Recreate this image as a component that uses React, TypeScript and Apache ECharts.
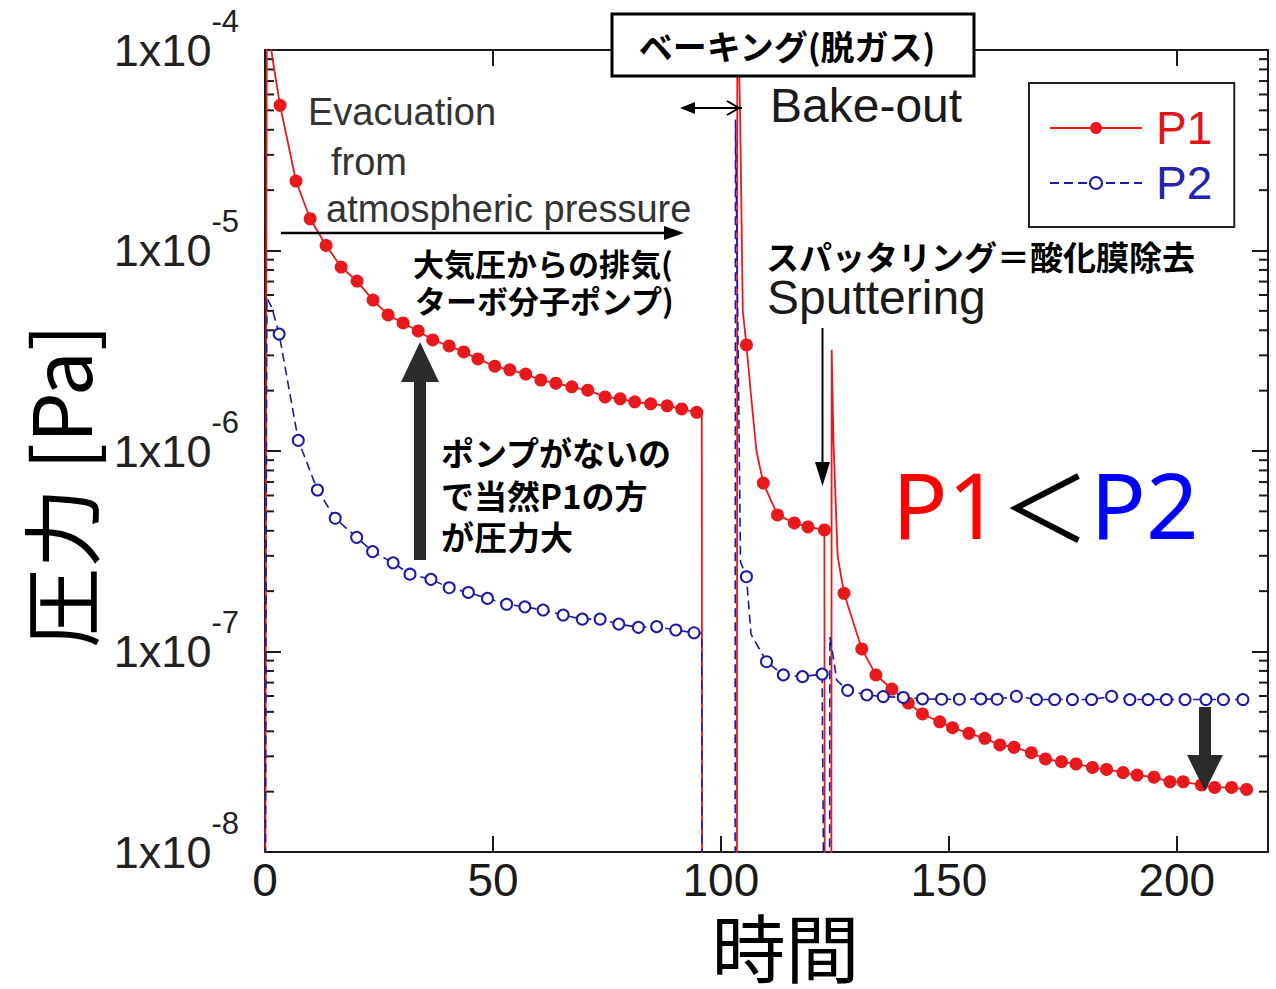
import React, { useEffect, useRef } from "react";
import * as echarts from "echarts";

// ---------- axes ----------
const X_MIN = 0;
const X_MAX = 220;
const X_INTERVAL = 50;
const Y_MIN = 1e-8;
const Y_MAX = 1e-4;
const DECADES = [1e-8, 1e-7, 1e-6, 1e-5];
const MINOR_STEPS = [2, 3, 4, 5, 6, 7, 8, 9];
const X_AXIS_NAME = "時間";
const Y_AXIS_NAME = "圧力 [Pa]";
const SERIES_NAMES = ["P1", "P2"];

// ---------- P1 (red, filled markers) ----------
const p1EvacT = [3.3, 6.8, 9.9, 13.4, 16.7, 20.2, 23.7, 27.0, 30.3, 33.6, 36.8, 40.4, 43.6, 46.7, 50.4, 53.7, 57.2, 60.5, 63.8, 67.3, 70.8, 74.6, 77.9, 81.1, 84.6, 88.2, 91.4, 94.7];
const p1EvacV = [5.3e-5, 2.22e-5, 1.44e-5, 1.06e-5, 8.27e-6, 7.04e-6, 5.66e-6, 4.77e-6, 4.35e-6, 3.97e-6, 3.58e-6, 3.34e-6, 3.12e-6, 2.88e-6, 2.65e-6, 2.54e-6, 2.42e-6, 2.26e-6, 2.18e-6, 2.09e-6, 2.01e-6, 1.86e-6, 1.82e-6, 1.76e-6, 1.72e-6, 1.68e-6, 1.62e-6, 1.56e-6];
const p1BakeT = [105.6, 109.3, 112.4, 116.1, 119.1, 122.7];
const p1BakeV = [3.38e-6, 6.92e-7, 4.8e-7, 4.38e-7, 4.18e-7, 4.04e-7];
const p1SputT = [127.0, 130.9, 134.0, 137.5, 141.1, 144.2, 148.0, 150.8, 154.4, 157.9, 161.2, 164.3, 168.1, 171.2, 174.7, 177.9, 181.5, 184.6, 188.2, 191.3, 195.0, 198.5, 201.4, 205.4, 208.3, 212.0, 215.3];
const p1SputV = [1.95e-7, 1.03e-7, 7.64e-8, 6.5e-8, 5.53e-8, 4.88e-8, 4.46e-8, 4.17e-8, 3.91e-8, 3.69e-8, 3.42e-8, 3.33e-8, 3.13e-8, 2.91e-8, 2.82e-8, 2.75e-8, 2.64e-8, 2.58e-8, 2.49e-8, 2.42e-8, 2.36e-8, 2.24e-8, 2.24e-8, 2.16e-8, 2.1e-8, 2.1e-8, 2.05e-8];
// unmarked trace points (jumps and spikes)
const p1EdgeT = [0, 0.4, 1.5, 95.8, 95.9, 103.5, 103.6, 104.2, 104.8, 106.7, 107.8, 122.8, 124.2, 124.3, 124.7, 125.6];
const p1EdgeV = [1e-9, 2e-4, 9.5e-5, 1.54e-6, 1e-9, 1e-9, 2e-4, 5e-5, 5e-6, 1.8e-6, 1.0e-6, 1e-9, 1e-9, 3.2e-6, 1.1e-6, 3.0e-7];

// ---------- P2 (blue, open markers) ----------
const p2EvacT = [3.1, 7.3, 11.5, 15.4, 20.1, 23.6, 28.1, 31.8, 36.4, 40.4, 44.6, 48.8, 53.0, 57.0, 61.0, 65.4, 69.6, 73.5, 77.6, 81.9, 85.9, 90.1, 94.1];
const p2EvacV = [3.83e-6, 1.13e-6, 6.39e-7, 4.62e-7, 3.71e-7, 3.15e-7, 2.77e-7, 2.43e-7, 2.29e-7, 2.08e-7, 1.97e-7, 1.84e-7, 1.72e-7, 1.67e-7, 1.61e-7, 1.52e-7, 1.45e-7, 1.45e-7, 1.37e-7, 1.32e-7, 1.33e-7, 1.28e-7, 1.24e-7];
const p2BakeT = [105.6, 110.0, 113.7, 117.9, 122.2];
const p2BakeV = [2.36e-7, 8.89e-8, 7.64e-8, 7.49e-8, 7.72e-8];
const p2SputT = [127.8, 132.0, 135.6, 140.0, 144.2, 148.4, 152.3, 157.0, 160.6, 164.8, 169.2, 173.2, 177.1, 181.3, 185.7, 189.7, 193.7, 197.7, 201.8, 206.4, 210.2, 214.5];
const p2SputV = [6.4e-8, 6.07e-8, 5.96e-8, 5.9e-8, 5.8e-8, 5.78e-8, 5.78e-8, 5.8e-8, 5.78e-8, 5.98e-8, 5.76e-8, 5.76e-8, 5.76e-8, 5.76e-8, 5.98e-8, 5.76e-8, 5.76e-8, 5.76e-8, 5.76e-8, 5.76e-8, 5.76e-8, 5.76e-8];
const p2EdgeT = [0, 0.4, 1.5, 95.8, 95.9, 103.1, 103.2, 104.3, 106.6, 122.8, 123.8, 123.9, 124.6, 125.4];
const p2EdgeV = [1e-9, 5.8e-6, 5.2e-6, 1.23e-7, 1e-9, 1e-9, 4.5e-5, 2.8e-7, 1.22e-7, 1e-9, 1e-9, 1.18e-7, 9.5e-8, 7.2e-8];

// ---------- styling ----------
const RED = "#e8181c";
const BLUE = "#1a1aa8";
const AXIS = "#1a1a1a";
const FONT_EN = "'Liberation Sans', Arial, sans-serif";
const FONT_JP = "'Noto Sans CJK JP', sans-serif";

function buildData(markSets: Array<[number[], number[]]>, edgeT: number[], edgeV: number[]) {
  const pts: { t: number; v: number; mark: boolean }[] = [];
  markSets.forEach(([ts, vs]) => ts.forEach((t, i) => pts.push({ t, v: vs[i], mark: true })));
  edgeT.forEach((t, i) => pts.push({ t, v: edgeV[i], mark: false }));
  pts.sort((a, b) => a.t - b.t);
  return pts.map((p) => (p.mark ? [p.t, p.v] : { value: [p.t, p.v], symbol: "none" }));
}

const minorTicks: number[] = [];
DECADES.forEach((d) => MINOR_STEPS.forEach((m) => minorTicks.push(m * d)));

function txt(text: string, x: number, y: number, size: number, family: string, weight: string, fill: string, align = "left", lh?: number) {
  return {
    type: "text",
    silent: true,
    z: 20,
    style: {
      legacy: false,
      text,
      x,
      y,
      fontSize: size,
      fontFamily: family,
      fontWeight: weight,
      fill,
      align,
      verticalAlign: "middle",
      lineHeight: lh ?? size,
    },
  };
}

export default function App() {
  const ref = useRef<HTMLDivElement>(null);

  useEffect(() => {
    if (!ref.current) return;
    const chart = echarts.init(ref.current, undefined, { renderer: "svg" });

    const p1Data = buildData([[p1EvacT, p1EvacV], [p1BakeT, p1BakeV], [p1SputT, p1SputV]], p1EdgeT, p1EdgeV);
    const p2Data = buildData([[p2EvacT, p2EvacV], [p2BakeT, p2BakeV], [p2SputT, p2SputV]], p2EdgeT, p2EdgeV);

    const axisLine = { show: true, onZero: false, lineStyle: { color: AXIS, width: 2 } };
    const majorTick = { show: true, inside: true, length: 16, lineStyle: { color: AXIS, width: 2 } };

    const graphics: any[] = [
      // Bake box
      { type: "rect", silent: true, z: 19, shape: { x: 612, y: 14, width: 362, height: 62 }, style: { fill: "#fff", stroke: "#000", lineWidth: 3 } },
      txt("ベーキング(脱ガス)", 787, 45, 34, FONT_JP, "bold", "#000", "center"),
      txt("Bake-out", 770, 105, 48, FONT_EN, "normal", "#1a1a1a", "left", 40),
      // double arrow
      { type: "line", silent: true, z: 20, shape: { x1: 684, y1: 108, x2: 742, y2: 108 }, style: { stroke: "#000", lineWidth: 2 } },
      { type: "polygon", silent: true, z: 20, shape: { points: [[680, 108], [695, 102], [695, 114]] }, style: { fill: "#000" } },
      { type: "polyline", silent: true, z: 20, shape: { points: [[727, 101], [739, 108], [727, 115]] }, style: { stroke: "#000", lineWidth: 2, fill: "none" } },
      // evacuation
      txt("Evacuation", 308, 112, 38, FONT_EN, "normal", "#333"),
      txt("from", 331, 162, 38, FONT_EN, "normal", "#333"),
      txt("atmospheric pressure", 326, 209, 38, FONT_EN, "normal", "#333"),
      { type: "line", silent: true, z: 20, shape: { x1: 281, y1: 233, x2: 668, y2: 233 }, style: { stroke: "#000", lineWidth: 2.5 } },
      { type: "polygon", silent: true, z: 20, shape: { points: [[664, 226], [684, 233], [664, 240]] }, style: { fill: "#000" } },
      txt("大気圧からの排気(", 413, 262, 31, FONT_JP, "bold", "#000"),
      txt("ターボ分子ポンプ)", 415, 299, 31, FONT_JP, "bold", "#000"),
      // big up arrow
      { type: "rect", silent: true, z: 20, shape: { x: 414, y: 378, width: 12, height: 182 }, style: { fill: "#2b2b2b" } },
      { type: "polygon", silent: true, z: 20, shape: { points: [[401, 382], [420, 342], [439, 382]] }, style: { fill: "#2b2b2b" } },
      txt("ポンプがないの", 441, 452, 33, FONT_JP, "bold", "#000"),
      txt("で当然P1の方", 441, 495, 33, FONT_JP, "bold", "#000"),
      txt("が圧力大", 441, 536, 33, FONT_JP, "bold", "#000"),
      // sputtering
      txt("スパッタリング＝酸化膜除去", 766, 256, 33, FONT_JP, "bold", "#000", "left", 30),
      txt("Sputtering", 767, 297, 48, FONT_EN, "normal", "#1a1a1a", "left", 40),
      { type: "line", silent: true, z: 20, shape: { x1: 822.5, y1: 328, x2: 822.5, y2: 468 }, style: { stroke: "#000", lineWidth: 2 } },
      { type: "polygon", silent: true, z: 20, shape: { points: [[815, 462], [830, 462], [822.5, 486]] }, style: { fill: "#000" } },
      // P1 < P2
      {
        type: "text",
        silent: true,
        z: 20,
        style: {
          legacy: false,
          text: "{a|P1}{b|＜}{c|P2}",
          x: 892,
          y: 503,
          align: "left",
          verticalAlign: "middle",
          rich: {
            a: { fontSize: 92, fontFamily: "'Noto Sans', sans-serif", fill: "#ff0000", lineHeight: 92 },
            b: { fontSize: 90, fontFamily: FONT_JP, fill: "#000", lineHeight: 92 },
            c: { fontSize: 92, fontFamily: "'Noto Sans', sans-serif", fill: "#0000ff", lineHeight: 92 },
          },
        },
      },
      // right down arrow
      { type: "rect", silent: true, z: 20, shape: { x: 1199, y: 707, width: 12, height: 52 }, style: { fill: "#2b2b2b" } },
      { type: "polygon", silent: true, z: 20, shape: { points: [[1187, 755], [1223, 755], [1205, 791]] }, style: { fill: "#2b2b2b" } },
    ];

    const option: any = {
      animation: false,
      backgroundColor: "#fff",
      grid: { left: 265, right: 8, top: 50, bottom: 137, containLabel: false },
      legend: {
        data: [
          { name: SERIES_NAMES[0], textStyle: { color: "#e3141b" } },
          { name: SERIES_NAMES[1], textStyle: { color: "#2424b0" } },
        ],
        orient: "vertical",
        left: 1029,
        top: 83,
        itemWidth: 92,
        itemHeight: 15,
        itemGap: 9,
        padding: [22, 22, 21, 20],
        borderColor: "#222",
        borderWidth: 2,
        backgroundColor: "#fff",
        textStyle: { fontSize: 46, fontFamily: FONT_EN, padding: [0, 0, 0, 9] },
      },
      xAxis: [
        {
          type: "value",
          min: X_MIN,
          max: X_MAX,
          interval: X_INTERVAL,
          position: "bottom",
          axisLine,
          axisTick: majorTick,
          splitLine: { show: false },
          axisLabel: { fontSize: 46, color: "#1a1a1a", fontFamily: FONT_EN, margin: 5, showMaxLabel: false },
          name: X_AXIS_NAME,
          nameLocation: "middle",
          nameGap: 54,
          nameTextStyle: { fontSize: 74, fontFamily: FONT_JP, color: "#000", padding: [0, 0, 0, 38], lineHeight: 74 },
        },
        {
          type: "value",
          min: X_MIN,
          max: X_MAX,
          interval: X_INTERVAL,
          position: "top",
          axisLine,
          axisTick: majorTick,
          splitLine: { show: false },
          axisLabel: { show: false },
        },
      ],
      yAxis: [
        {
          type: "log",
          logBase: 10,
          min: Y_MIN,
          max: Y_MAX,
          position: "left",
          axisLine,
          axisTick: majorTick,
          splitLine: { show: false },
          axisLabel: {
            margin: 26,
            formatter: (v: number) => `{m|1x10}{e|${Math.round(Math.log10(v))}}`,
            rich: {
              m: { fontSize: 45, fontFamily: FONT_EN, color: "#222" },
              e: { fontSize: 31, fontFamily: FONT_EN, color: "#222", padding: [0, 0, 58, 0] },
            },
          },
          name: Y_AXIS_NAME,
          nameLocation: "middle",
          nameRotate: 90,
          nameGap: 168,
          nameTextStyle: { fontSize: 80, fontFamily: FONT_JP, color: "#000", padding: [0, 70, 0, 0], lineHeight: 80 },
        },
        {
          type: "log",
          logBase: 10,
          min: Y_MIN,
          max: Y_MAX,
          position: "right",
          axisLine,
          axisTick: majorTick,
          splitLine: { show: false },
          axisLabel: { show: false },
        },
      ],
      series: [
        {
          type: "custom",
          name: "minorTicks",
          silent: true,
          clip: false,
          xAxisIndex: 0,
          yAxisIndex: 0,
          data: minorTicks.map((v) => [X_MIN, v]),
          renderItem: (_params: any, api: any) => {
            const v = api.value(1);
            const l = api.coord([X_MIN, v]);
            const r = api.coord([X_MAX, v]);
            return {
              type: "group",
              children: [
                { type: "line", shape: { x1: l[0], y1: l[1], x2: l[0] + 9, y2: l[1] }, style: { stroke: AXIS, lineWidth: 2 } },
                { type: "line", shape: { x1: r[0] - 9, y1: r[1], x2: r[0], y2: r[1] }, style: { stroke: AXIS, lineWidth: 2 } },
              ],
            };
          },
        },
        {
          name: SERIES_NAMES[0],
          type: "line",
          data: p1Data,
          symbol: "circle",
          symbolSize: 13,
          showAllSymbol: true,
          itemStyle: { color: RED },
          lineStyle: { color: RED, width: 1.8 },
          z: 3,
        },
        {
          name: SERIES_NAMES[1],
          type: "line",
          data: p2Data,
          symbol: "emptyCircle",
          symbolSize: 11,
          showAllSymbol: true,
          itemStyle: { color: BLUE, borderWidth: 2.8 },
          lineStyle: { color: BLUE, width: 1.6, type: [9, 5] },
          z: 4,
        },
      ],
      graphic: { elements: graphics },
    };

    chart.setOption(option);
    return () => chart.dispose();
  }, []);

  return (
    <div
      ref={ref}
      style={{ position: "fixed", left: 0, top: 0, width: 1276, height: 989, background: "#fff" }}
    />
  );
}
